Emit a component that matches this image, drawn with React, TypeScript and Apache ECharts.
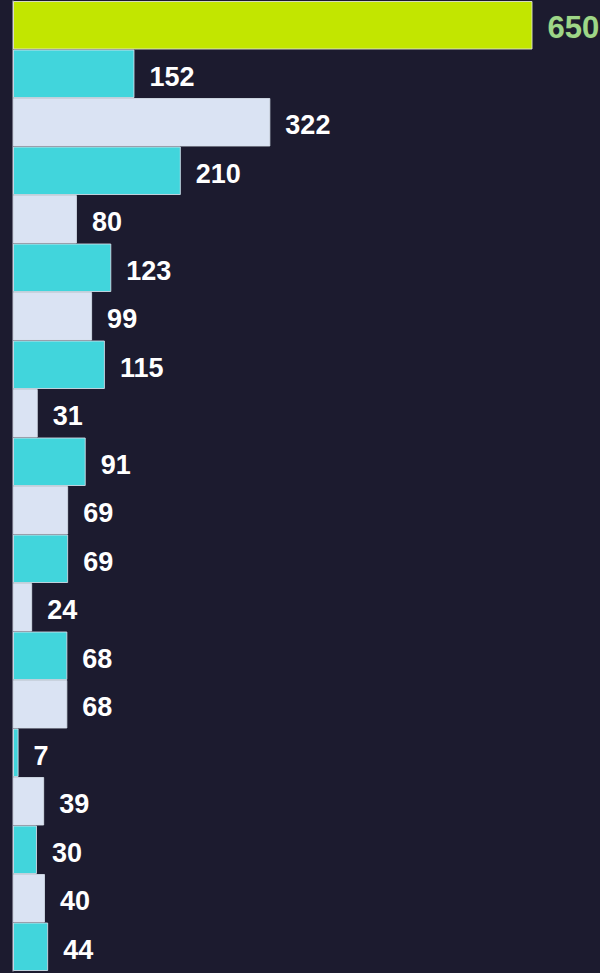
import React, { useEffect, useRef } from "react";
import * as echarts from "echarts";

const categories = [
  "A1", "A2", "A3", "A4", "A5", "A6", "A7", "A8", "A9", "A10",
  "A11", "A12", "A13", "A14", "A15", "A16", "A17", "A18", "A19", "A20",
];
const values = [650, 152, 322, 210, 80, 123, 99, 115, 31, 91, 69, 69, 24, 68, 68, 7, 39, 30, 40, 44];

const BG = "#1c1b2f";
const LIME = "#c2e600";
const CYAN = "#41d5dc";
const LIGHT = "#dae3f3";

export default function App() {
  const ref = useRef<HTMLDivElement>(null);
  useEffect(() => {
    if (!ref.current) return;
    const chart = echarts.init(ref.current, undefined, { renderer: "svg" });
    const data = values.map((v, i) => {
      const color = i === 0 ? LIME : i % 2 === 1 ? CYAN : LIGHT;
      const item: any = {
        value: v,
        itemStyle: {
          color,
          borderColor: i === 0 ? "rgba(225,230,210,0.9)" : "rgba(215,225,235,0.85)",
          borderWidth: 1,
        },
      };
      if (i === 0) {
        item.label = {
          color: "#9ed688",
          fontSize: 31,
          fontWeight: "bold",
          offset: [0, 2],
          textBorderColor: "rgba(40,60,40,0.6)",
          textBorderWidth: 1,
        };
      }
      return item;
    });
    chart.setOption({
      animation: false,
      backgroundColor: BG,
      grid: { left: 13, right: 67.5, top: 1, bottom: 2, containLabel: false },
      xAxis: {
        type: "value",
        min: 0,
        max: 650,
        show: false,
      },
      yAxis: {
        type: "category",
        data: categories,
        inverse: true,
        axisLine: { show: true, lineStyle: { color: "#8a8a9c", width: 1.5 } },
        axisTick: { show: false },
        axisLabel: { show: false },
        splitLine: { show: false },
      },
      series: [
        {
          type: "bar",
          data,
          barCategoryGap: "0%",
          label: {
            show: true,
            position: "right",
            distance: 15,
            offset: [0, 3],
            color: "#ffffff",
            fontSize: 27,
            fontWeight: "bold",
            fontFamily: "'Liberation Sans', Arial, sans-serif",
          },
        },
      ],
    });
    return () => chart.dispose();
  }, []);
  return (
    <div
      ref={ref}
      style={{ position: "fixed", left: 0, top: 0, width: 600, height: 973, background: BG }}
    />
  );
}
